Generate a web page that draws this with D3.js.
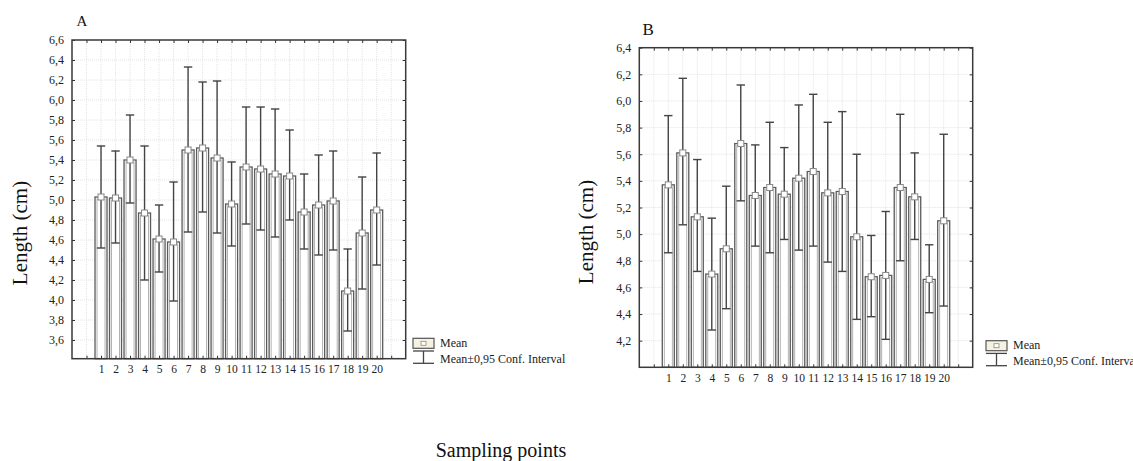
<!DOCTYPE html>
<html>
<head>
<meta charset="utf-8">
<script src="https://cdn.jsdelivr.net/npm/d3@7"></script>
<style>
  html, body { margin: 0; padding: 0; background: #fff; }
  svg { display: block; font-family: "Liberation Serif", "DejaVu Serif", serif; }
</style>
</head>
<body>
<svg id="chart" width="1133" height="461"></svg>
<script>
// ---------------- DATA ----------------
const categories = ["1","2","3","4","5","6","7","8","9","10","11","12","13","14","15","16","17","18","19","20"];

// Panel A
const meanA  = [5.03, 5.02, 5.40, 4.87, 4.61, 4.58, 5.50, 5.52, 5.42, 4.96, 5.33, 5.31, 5.26, 5.24, 4.88, 4.95, 4.99, 4.09, 4.67, 4.90];
const upperA = [5.54, 5.49, 5.85, 5.54, 4.95, 5.18, 6.33, 6.18, 6.19, 5.38, 5.93, 5.93, 5.91, 5.70, 5.26, 5.45, 5.49, 4.51, 5.23, 5.47];
const lowerA = [4.52, 4.57, 4.97, 4.20, 4.28, 3.99, 4.68, 4.88, 4.67, 4.54, 4.76, 4.70, 4.63, 4.80, 4.51, 4.45, 4.50, 3.69, 4.11, 4.35];
const yTicksA = [3.6, 3.8, 4.0, 4.2, 4.4, 4.6, 4.8, 5.0, 5.2, 5.4, 5.6, 5.8, 6.0, 6.2, 6.4, 6.6];
const yTickLabelsA = ["3,6","3,8","4,0","4,2","4,4","4,6","4,8","5,0","5,2","5,4","5,6","5,8","6,0","6,2","6,4","6,6"];

// Panel B
const meanB  = [5.37, 5.61, 5.13, 4.70, 4.89, 5.68, 5.29, 5.35, 5.30, 5.42, 5.47, 5.31, 5.32, 4.98, 4.68, 4.69, 5.35, 5.28, 4.66, 5.10];
const upperB = [5.89, 6.17, 5.56, 5.12, 5.36, 6.12, 5.67, 5.84, 5.65, 5.97, 6.05, 5.84, 5.92, 5.60, 4.99, 5.17, 5.90, 5.61, 4.92, 5.75];
const lowerB = [4.86, 5.07, 4.72, 4.28, 4.44, 5.25, 4.91, 4.86, 4.96, 4.88, 4.91, 4.79, 4.72, 4.36, 4.38, 4.21, 4.80, 4.96, 4.41, 4.46];
const yTicksB = [4.2, 4.4, 4.6, 4.8, 5.0, 5.2, 5.4, 5.6, 5.8, 6.0, 6.2, 6.4];
const yTickLabelsB = ["4,2","4,4","4,6","4,8","5,0","5,2","5,4","5,6","5,8","6,0","6,2","6,4"];

const legendLabels = ["Mean", "Mean\u00B10,95 Conf. Interval"];
const yTitle = "Length (cm)";
const xTitle = "Sampling points";

// ---------------- DRAW ----------------
const svg = d3.select("#chart");

function drawPanel(cfg) {
  const g = svg.append("g");
  const x = d3.scaleLinear().domain([-1, categories.length + 2]).range([cfg.left, cfg.right]);
  const y = d3.scaleLinear().domain(cfg.yDomain).range([cfg.bottom, cfg.top]);
  const pos = categories.map((c, i) => i + 1);
  const gridX = d3.range(0, categories.length + 2);

  // grid
  g.append("g").selectAll("line.gx").data(gridX).join("line")
    .attr("x1", d => x(d)).attr("x2", d => x(d))
    .attr("y1", cfg.top).attr("y2", cfg.bottom)
    .attr("stroke", "#dcdcdc").attr("stroke-width", 0.8).attr("stroke-dasharray", "1,1");
  g.append("g").selectAll("line.gy").data(cfg.ticks).join("line")
    .attr("x1", cfg.left).attr("x2", cfg.right)
    .attr("y1", d => y(d)).attr("y2", d => y(d))
    .attr("stroke", "#dcdcdc").attr("stroke-width", 0.8).attr("stroke-dasharray", "1,1");

  // bars
  const bw = 12;
  const bars = g.append("g");
  bars.selectAll("rect.bar").data(cfg.mean).join("rect")
    .attr("x", (d, i) => x(pos[i]) - bw / 2)
    .attr("y", d => y(d))
    .attr("width", bw)
    .attr("height", d => cfg.bottom - y(d))
    .attr("fill", "#fff").attr("stroke", "#5a5a5a").attr("stroke-width", 1.3);
  bars.selectAll("rect.inner").data(cfg.mean).join("rect")
    .attr("x", (d, i) => x(pos[i]) - bw / 2 + 2)
    .attr("y", d => y(d) + 2)
    .attr("width", bw - 4)
    .attr("height", d => Math.max(0, cfg.bottom - y(d) - 2))
    .attr("fill", "none").attr("stroke", "#a0a0a0").attr("stroke-width", 0.8);

  // error bars
  const cap = 4.2;
  const eb = g.append("g").attr("stroke", "#444").attr("stroke-width", 1.4);
  eb.selectAll("line.v").data(cfg.mean).join("line")
    .attr("x1", (d, i) => x(pos[i])).attr("x2", (d, i) => x(pos[i]))
    .attr("y1", (d, i) => y(cfg.upper[i])).attr("y2", (d, i) => y(cfg.lower[i]));
  eb.selectAll("line.u").data(cfg.upper).join("line")
    .attr("x1", (d, i) => x(pos[i]) - cap).attr("x2", (d, i) => x(pos[i]) + cap)
    .attr("y1", d => y(d)).attr("y2", d => y(d));
  eb.selectAll("line.l").data(cfg.lower).join("line")
    .attr("x1", (d, i) => x(pos[i]) - cap).attr("x2", (d, i) => x(pos[i]) + cap)
    .attr("y1", d => y(d)).attr("y2", d => y(d));

  // mean markers
  g.append("g").selectAll("rect.m").data(cfg.mean).join("rect")
    .attr("x", (d, i) => x(pos[i]) - 3)
    .attr("y", d => y(d) - 3)
    .attr("width", 6).attr("height", 6)
    .attr("fill", "#fff").attr("stroke", "#888").attr("stroke-width", 1);

  // axes (inward ticks)
  const labelMap = new Map(pos.map((p, i) => [p, categories[i]]));
  const axB = d3.axisBottom(x).tickValues(gridX).tickSize(-3).tickPadding(6)
    .tickFormat(d => labelMap.get(d) || "");
  const axT = d3.axisTop(x).tickValues(gridX).tickSize(-3).tickFormat("");
  const tickLab = new Map(cfg.ticks.map((t, i) => [t, cfg.tickLabels[i]]));
  const axL = d3.axisLeft(y).tickValues(cfg.ticks).tickSize(-3).tickPadding(8)
    .tickFormat(d => tickLab.get(d));
  const axR = d3.axisRight(y).tickValues(cfg.ticks).tickSize(-3).tickFormat("");

  function style(sel, fs) {
    sel.select(".domain").remove();
    sel.selectAll(".tick line").attr("stroke", "#333").attr("stroke-width", 1);
    sel.selectAll(".tick text").attr("fill", "#222").style("font-family", "Liberation Serif")
      .style("font-size", fs + "px");
  }
  g.append("g").attr("transform", `translate(0,${cfg.bottom})`).call(axB).call(s => style(s, 11.5))
    .selectAll(".tick text").attr("dy", "0.71em").attr("y", cfg.xLabelOffset);
  g.append("g").attr("transform", `translate(0,${cfg.top})`).call(axT).call(s => style(s, 11));
  g.append("g").attr("transform", `translate(${cfg.left},0)`).call(axL).call(s => style(s, 12));
  g.append("g").attr("transform", `translate(${cfg.right},0)`).call(axR).call(s => style(s, 11));

  // frame
  g.append("rect")
    .attr("x", cfg.left).attr("y", cfg.top)
    .attr("width", cfg.right - cfg.left).attr("height", cfg.bottom - cfg.top)
    .attr("fill", "none").attr("stroke", "#3a3a3a").attr("stroke-width", 1.5);

  // panel letter
  g.append("text").attr("x", cfg.letterX).attr("y", cfg.letterY)
    .attr("font-size", cfg.letterSize).attr("fill", "#111").text(cfg.letter);

  // y title
  g.append("text")
    .attr("transform", `translate(${cfg.yTitleX},${cfg.yTitleY}) rotate(-90)`)
    .attr("text-anchor", "middle").attr("font-size", 21).attr("fill", "#111")
    .text(yTitle);

  // legend
  const lg = g.append("g").attr("transform", `translate(${cfg.legX},${cfg.legY})`);
  lg.append("rect").attr("x", 0).attr("y", 0).attr("width", 21).attr("height", 10)
    .attr("fill", "#f6f2e1").attr("stroke", "#555").attr("stroke-width", 1.2);
  lg.append("rect").attr("x", 8).attr("y", 3).attr("width", 5).attr("height", 4)
    .attr("fill", "#fff").attr("stroke", "#888").attr("stroke-width", 0.8);
  lg.append("line").attr("x1", 0).attr("x2", 21).attr("y1", 12.7).attr("y2", 12.7)
    .attr("stroke", "#444").attr("stroke-width", 1.3);
  lg.append("line").attr("x1", 10.5).attr("x2", 10.5).attr("y1", 12.7).attr("y2", 25)
    .attr("stroke", "#444").attr("stroke-width", 1.3);
  lg.append("line").attr("x1", 0).attr("x2", 21).attr("y1", 25).attr("y2", 25)
    .attr("stroke", "#444").attr("stroke-width", 1.3);
  lg.append("text").attr("x", 27).attr("y", 8.5).attr("font-size", 12).attr("fill", "#222").text(legendLabels[0]);
  lg.append("text").attr("x", 27).attr("y", 24.3).attr("font-size", 12).attr("fill", "#222").text(legendLabels[1]);
}

drawPanel({
  left: 72, right: 405.7, top: 40, bottom: 358.7,
  yDomain: [3.413, 6.6],
  mean: meanA, upper: upperA, lower: lowerA,
  ticks: yTicksA, tickLabels: yTickLabelsA,
  xLabelOffset: 6,
  letter: "A", letterX: 76.5, letterY: 26, letterSize: 15,
  yTitleX: 27, yTitleY: 233,
  legX: 413, legY: 338.3
});

drawPanel({
  left: 639.3, right: 972.7, top: 47.7, bottom: 367.3,
  yDomain: [4.0, 6.4],
  mean: meanB, upper: upperB, lower: lowerB,
  ticks: yTicksB, tickLabels: yTickLabelsB,
  xLabelOffset: 7,
  letter: "B", letterX: 642.5, letterY: 35, letterSize: 17,
  yTitleX: 593, yTitleY: 232,
  legX: 986, legY: 340.7
});

svg.append("text").attr("x", 501).attr("y", 456.5).attr("text-anchor", "middle")
  .attr("font-size", 20).attr("fill", "#111").text(xTitle);
</script>
</body>
</html>
